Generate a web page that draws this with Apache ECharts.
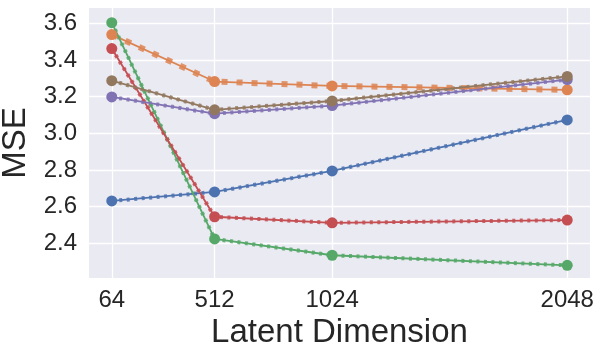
<!DOCTYPE html>
<html>
<head>
<meta charset="utf-8">
<script src="https://cdn.jsdelivr.net/npm/echarts@6/dist/echarts.min.js"></script>
<style>
  html, body { margin: 0; padding: 0; background: #fff; }
  #main { width: 603px; height: 354px; }
</style>
</head>
<body>
<div id="main"></div>
<script>
// data
var dims = [64, 512, 1024, 2048];
var xTicks = [64, 512, 1024, 2048];
var yTicks = [2.4, 2.6, 2.8, 3.0, 3.2, 3.4, 3.6];

var blueVals = [2.631, 2.680, 2.795, 3.073];
var orangeVals = [3.538, 3.282, 3.258, 3.237];
var greenVals = [3.603, 2.424, 2.335, 2.280];
var redVals = [3.462, 2.545, 2.512, 2.527];
var purpleVals = [3.198, 3.107, 3.151, 3.293];
var brownVals = [3.287, 3.128, 3.176, 3.310];

var lines = [
  { name: 'blue', color: '#4C72B0', vals: blueVals, square: false },
  { name: 'orange', color: '#DD8452', vals: orangeVals, square: true },
  { name: 'green', color: '#55A868', vals: greenVals, square: false },
  { name: 'red', color: '#C44E52', vals: redVals, square: false },
  { name: 'purple', color: '#8172B3', vals: purpleVals, square: false },
  { name: 'brown', color: '#937860', vals: brownVals, square: false }
];

function pairs(vals) {
  return dims.map(function (d, i) { return [d, vals[i]]; });
}

var series = [];
lines.forEach(function (l) {
  // small in-between markers, drawn as a dash pattern
  series.push({
    name: l.name + '-dots',
    type: 'line',
    data: pairs(l.vals),
    showSymbol: false,
    silent: true,
    z: 2,
    lineStyle: {
      color: l.color,
      width: l.square ? 6 : 4,
      type: l.square ? [6, 9] : [3, 4.5],
      cap: 'butt',
      opacity: 0.85
    }
  });
  series.push({
    name: l.name,
    type: 'line',
    data: pairs(l.vals),
    symbol: 'circle',
    symbolSize: 11,
    z: 3,
    itemStyle: { color: l.color },
    lineStyle: { color: l.color, width: 1.8 }
  });
});

var myChart = echarts.init(document.getElementById('main'));
var option = {
  animation: false,
  backgroundColor: '#ffffff',
  grid: {
    left: 89,
    right: 13,
    top: 8,
    bottom: 76,
    outerBoundsMode: 'none',
    containLabel: false,
    show: true,
    backgroundColor: '#EAEAF2',
    borderWidth: 0
  },
  xAxis: {
    type: 'value',
    min: -35.2,
    max: 2147.2,
    name: 'Latent Dimension',
    nameLocation: 'middle',
    nameGap: 28,
    nameTextStyle: { fontSize: 33, color: '#262626', fontFamily: 'Liberation Sans' },
    axisLine: { show: false },
    axisTick: { show: false, customValues: xTicks },
    axisLabel: {
      customValues: xTicks,
      fontSize: 24,
      color: '#262626',
      fontFamily: 'Liberation Sans',
      margin: 10,
      formatter: function (v) { return String(v); }
    },
    splitLine: { show: true, lineStyle: { color: '#ffffff', width: 1.3 } }
  },
  yAxis: {
    type: 'value',
    min: 2.211,
    max: 3.683,
    name: 'MSE',
    nameLocation: 'middle',
    nameGap: 50,
    nameTextStyle: { fontSize: 33, color: '#262626', fontFamily: 'Liberation Sans' },
    axisLine: { show: false },
    axisTick: { show: false, customValues: yTicks },
    axisLabel: {
      customValues: yTicks,
      fontSize: 24,
      color: '#262626',
      fontFamily: 'Liberation Sans',
      margin: 12,
      formatter: function (v) { return v.toFixed(1); }
    },
    splitLine: { show: true, lineStyle: { color: '#ffffff', width: 1.3 } }
  },
  series: series
};
myChart.setOption(option);
</script>
</body>
</html>
